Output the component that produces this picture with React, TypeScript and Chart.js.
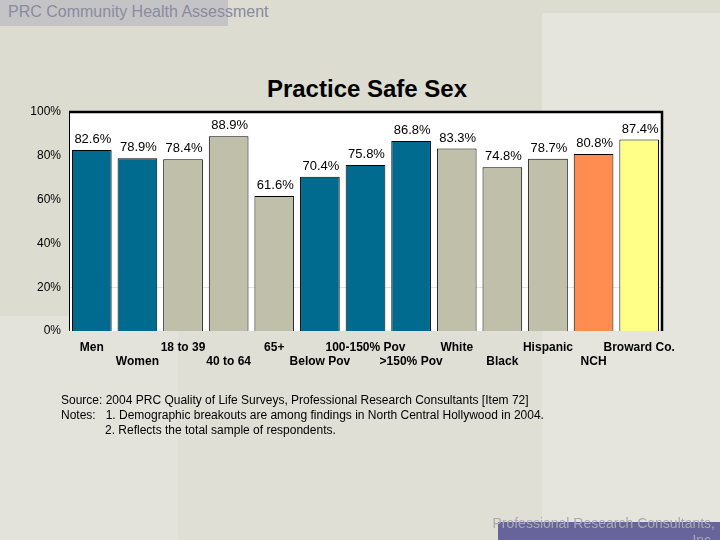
import React, { useEffect, useRef } from "react";
import { Chart, registerables } from "chart.js";

Chart.register(...registerables);

const categories = ["Men", "Women", "18 to 39", "40 to 64", "65+", "Below Pov", "100-150% Pov", ">150% Pov", "White", "Black", "Hispanic", "NCH", "Broward Co."];
const values = [82.6, 78.9, 78.4, 88.9, 61.6, 70.4, 75.8, 86.8, 83.3, 74.8, 78.7, 80.8, 87.4];
const groups = ["blue", "blue", "gray", "gray", "gray", "blue", "blue", "blue", "gray", "gray", "gray", "orange", "yellow"];
const yTicks = [0, 20, 40, 60, 80, 100];

const groupColors: Record<string, string> = {
  blue: "#006a8f",
  gray: "#c0c0aa",
  orange: "#ff8c50",
  yellow: "#ffff88",
};

const FONT = "Arial, 'Liberation Sans', sans-serif";

export default function App() {
  const ref = useRef<HTMLCanvasElement>(null);

  useEffect(() => {
    if (!ref.current) return;
    const labels = categories.map((c, i) => (i % 2 === 0 ? [c, ""] : ["", c]));

    const plugin = {
      id: "deco",
      beforeDatasetsDraw(chart: any) {
        const { ctx, chartArea } = chart;
        ctx.save();
        ctx.fillStyle = "#ffffff";
        ctx.fillRect(chartArea.left, chartArea.top, chartArea.right - chartArea.left, chartArea.bottom - chartArea.top);
        const y20 = chart.scales.y.getPixelForValue(20);
        ctx.strokeStyle = "#e4e4de";
        ctx.lineWidth = 1;
        ctx.beginPath();
        ctx.moveTo(chartArea.left, Math.round(y20) + 0.5);
        ctx.lineTo(chartArea.right, Math.round(y20) + 0.5);
        ctx.stroke();
        ctx.restore();
      },
      afterDatasetsDraw(chart: any) {
        const { ctx, chartArea } = chart;
        const meta = chart.getDatasetMeta(0);
        ctx.save();
        ctx.fillStyle = "#000";
        ctx.font = `13px ${FONT}`;
        ctx.textAlign = "center";
        ctx.textBaseline = "bottom";
        meta.data.forEach((bar: any, i: number) => {
          ctx.fillText(values[i].toFixed(1) + "%", bar.x + 1, bar.y - 4);
        });
        ctx.strokeStyle = "#000";
        ctx.lineWidth = 1;
        ctx.beginPath();
        ctx.moveTo(chartArea.left + 0.5, chartArea.bottom);
        ctx.lineTo(chartArea.left + 0.5, chartArea.top);
        ctx.stroke();
        ctx.lineWidth = 2.5;
        ctx.beginPath();
        ctx.moveTo(chartArea.left, chartArea.top);
        ctx.lineTo(chartArea.right, chartArea.top);
        ctx.lineTo(chartArea.right, chartArea.bottom);
        ctx.stroke();
        ctx.restore();
      },
    };

    const chart = new Chart(ref.current, {
      type: "bar",
      data: {
        labels,
        datasets: [
          {
            data: values,
            backgroundColor: groups.map((g) => groupColors[g]),
            borderColor: "#000",
            borderWidth: 1,
            categoryPercentage: 1,
            barPercentage: 0.87,
          },
        ],
      },
      options: {
        animation: false,
        responsive: false,
        maintainAspectRatio: false,
        layout: { padding: { left: 0, top: 112, right: 58, bottom: 169 } },
        plugins: { legend: { display: false }, tooltip: { enabled: false } },
        scales: {
          x: {
            grid: { display: false, drawTicks: false },
            border: { display: false },
            ticks: {
              color: "#000",
              font: { family: FONT, size: 12, weight: "bold", lineHeight: 1.2 },
              padding: 9,
              maxRotation: 0,
              autoSkip: false,
            },
            afterFit: (s: any) => {
              s.height = 40;
            },
          },
          y: {
            min: 0,
            max: 100,
            afterBuildTicks: (s: any) => {
              s.ticks = yTicks.map((v) => ({ value: v }));
            },
            grid: { display: false, drawTicks: false },
            border: { display: false },
            ticks: {
              color: "#000",
              font: { family: FONT, size: 12 },
              padding: 8,
              callback: (v: any) => v + "%",
            },
            afterFit: (s: any) => {
              s.width = 69;
            },
          },
        },
      },
      plugins: [plugin],
    });
    return () => chart.destroy();
  }, []);

  return (
    <div style={{ position: "fixed", left: 0, top: 0, width: 720, height: 540, background: "#dcdcd1", overflow: "hidden", fontFamily: FONT }}>
      <div style={{ position: "absolute", left: 178, top: 316, width: 364, height: 224, background: "#dfdfd6" }} />
      <div style={{ position: "absolute", left: 542, top: 13, width: 178, height: 527, background: "#e5e5de" }} />
      <div style={{ position: "absolute", left: 0, top: 316, width: 178, height: 224, background: "#e3e3dc" }} />
      <div style={{ position: "absolute", left: 0, top: 0, width: 228, height: 26, background: "#c4c4c6" }} />
      <div style={{ position: "absolute", left: 8, top: 3, fontSize: 16, lineHeight: "18px", color: "#8a8aa0", whiteSpace: "nowrap" }}>PRC Community Health Assessment</div>
      <div style={{ position: "absolute", left: 0, top: 75, width: 734, textAlign: "center", fontSize: 24, lineHeight: "28px", fontWeight: "bold", color: "#000" }}>Practice Safe Sex</div>
      <canvas ref={ref} width={720} height={540} style={{ position: "absolute", left: 0, top: 0, width: 720, height: 540 }} />
      <div style={{ position: "absolute", left: 61, top: 393, fontSize: 12, lineHeight: "15px", color: "#000", whiteSpace: "nowrap" }}>
        <div>Source: 2004 PRC Quality of Life Surveys, Professional Research Consultants [Item 72]</div>
        <div>Notes:&nbsp;&nbsp; 1. Demographic breakouts are among findings in North Central Hollywood in 2004.</div>
        <div style={{ paddingLeft: 44 }}>2. Reflects the total sample of respondents.</div>
      </div>
      <div style={{ position: "absolute", left: 498, top: 522, width: 222, height: 18, background: "#66649a" }} />
      <div style={{ position: "absolute", right: 5, top: 515, fontSize: 14, lineHeight: "17px", textAlign: "right", color: "#a9a9b2", whiteSpace: "nowrap" }}>
        <div>Professional Research Consultants,</div>
        <div>Inc.</div>
      </div>
    </div>
  );
}
